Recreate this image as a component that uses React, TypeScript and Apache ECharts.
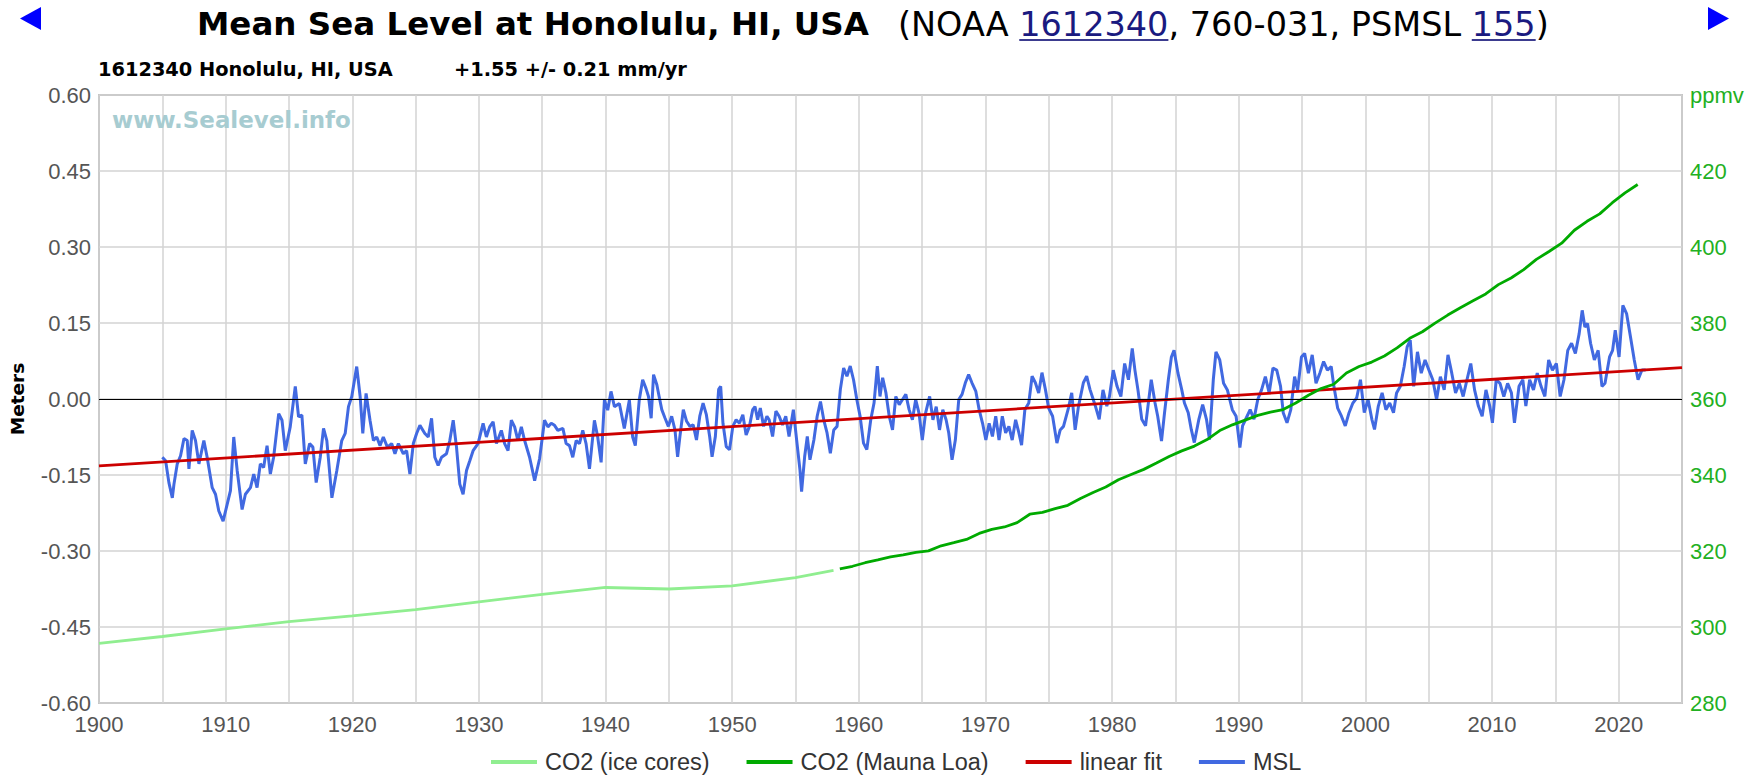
import React, { useEffect, useRef } from 'react';
import * as echarts from 'echarts';

// ---------- data ----------
const iceYears = [1900, 1905, 1910, 1915, 1920, 1925, 1930, 1935, 1940, 1945, 1950, 1955, 1958];
const iceCO2 = [295.7, 297.5, 299.5, 301.4, 302.9, 304.6, 306.6, 308.6, 310.4, 310.0, 310.8, 313.0, 314.9];

const mlYears = [1958.5, 1959.5, 1960.5, 1961.5, 1962.5, 1963.5, 1964.5, 1965.5, 1966.5, 1967.5, 1968.5, 1969.5,
  1970.5, 1971.5, 1972.5, 1973.5, 1974.5, 1975.5, 1976.5, 1977.5, 1978.5, 1979.5, 1980.5, 1981.5, 1982.5, 1983.5,
  1984.5, 1985.5, 1986.5, 1987.5, 1988.5, 1989.5, 1990.5, 1991.5, 1992.5, 1993.5, 1994.5, 1995.5, 1996.5, 1997.5,
  1998.5, 1999.5, 2000.5, 2001.5, 2002.5, 2003.5, 2004.5, 2005.5, 2006.5, 2007.5, 2008.5, 2009.5, 2010.5, 2011.5,
  2012.5, 2013.5, 2014.5, 2015.5, 2016.5, 2017.5, 2018.5, 2019.5, 2020.5, 2021.5];
const mlCO2 = [315.3, 315.98, 316.91, 317.64, 318.45, 318.99, 319.62, 320.04, 321.37, 322.18, 323.05, 324.62,
  325.68, 326.32, 327.46, 329.68, 330.19, 331.13, 332.03, 333.84, 335.41, 336.84, 338.76, 340.12, 341.48, 343.15,
  344.87, 346.35, 347.61, 349.31, 351.69, 353.2, 354.45, 355.7, 356.54, 357.21, 358.96, 360.97, 362.74, 363.88,
  366.84, 368.54, 369.71, 371.32, 373.45, 375.98, 377.7, 379.98, 382.09, 384.02, 385.83, 387.64, 390.1, 391.85,
  394.06, 396.74, 398.81, 401.01, 404.41, 406.76, 408.72, 411.66, 414.24, 416.45];

const fitYears = [1900, 2025];
const fitMeters = [-0.132, 0.062];

const msl1905: [number, number][] = [
  [1905.0,-0.115],[1905.26,-0.122],[1905.52,-0.165],[1905.79,-0.195],[1905.92,-0.168],[1906.18,-0.128],[1906.44,-0.112],
  [1906.71,-0.078],[1906.97,-0.082],[1907.1,-0.138],[1907.36,-0.062],[1907.62,-0.082],[1907.89,-0.128],[1908.28,-0.082],
  [1908.54,-0.115],[1908.94,-0.175],[1909.2,-0.188],[1909.46,-0.221],[1909.8,-0.241],[1910.12,-0.208],[1910.38,-0.181],
  [1910.64,-0.075],[1910.91,-0.141],[1911.3,-0.218],[1911.56,-0.188],[1911.96,-0.175],[1912.22,-0.148],[1912.48,-0.175],
  [1912.74,-0.128],[1913.0,-0.135],[1913.27,-0.092],[1913.53,-0.148],[1913.79,-0.115],[1914.19,-0.029],[1914.45,-0.042],
  [1914.71,-0.102],[1915.1,-0.055],[1915.5,0.025],[1915.76,-0.035],[1916.02,-0.032],[1916.29,-0.128],[1916.63,-0.088],
  [1916.89,-0.095],[1917.15,-0.165],[1917.47,-0.115],[1917.73,-0.058],[1917.99,-0.082],[1918.39,-0.195],[1918.78,-0.141],
  [1919.17,-0.082],[1919.44,-0.068],[1919.7,-0.015],[1919.96,0.005],[1920.35,0.064],[1920.62,0.005],[1920.83,-0.068],
  [1921.09,0.011],[1921.4,-0.042],[1921.67,-0.082],[1921.93,-0.075],[1922.19,-0.092],[1922.45,-0.075],[1922.77,-0.095],
  [1923.11,-0.088],[1923.37,-0.108],[1923.64,-0.088],[1924.03,-0.108],[1924.29,-0.102],[1924.55,-0.148],[1924.82,-0.088],
  [1925.08,-0.068],[1925.34,-0.052],[1925.73,-0.068],[1926.0,-0.075],[1926.26,-0.038],[1926.52,-0.115],[1926.78,-0.131],
  [1927.05,-0.115],[1927.44,-0.108],[1927.7,-0.082],[1927.97,-0.042],[1928.23,-0.095],[1928.49,-0.168],[1928.75,-0.188],
  [1929.02,-0.141],[1929.28,-0.122],[1929.54,-0.102],[1929.93,-0.088],[1930.33,-0.048],[1930.59,-0.075],[1930.85,-0.055],
  [1931.12,-0.045],[1931.38,-0.088],[1931.77,-0.062],[1932.03,-0.088],[1932.3,-0.102],[1932.56,-0.042],[1932.82,-0.055],
  [1933.08,-0.082],[1933.35,-0.055],[1933.61,-0.082],[1934.0,-0.115],[1934.4,-0.161],[1934.79,-0.118],[1935.18,-0.042],
  [1935.45,-0.055],[1935.71,-0.048],[1935.97,-0.052],[1936.23,-0.062],[1936.63,-0.058],[1936.89,-0.088],[1937.15,-0.092],
  [1937.41,-0.115],[1937.68,-0.082],[1937.94,-0.088],[1938.2,-0.062],[1938.46,-0.088],[1938.73,-0.138],[1939.12,-0.042],
  [1939.38,-0.075],[1939.65,-0.125],[1939.91,-0.002],[1940.17,-0.022],[1940.43,0.015],[1940.7,-0.015],[1941.09,-0.009],
  [1941.48,-0.058],[1941.88,-0.002],[1942.14,-0.075],[1942.35,-0.092],[1942.66,-0.002],[1942.93,0.038],[1943.19,0.021],
];
const msl1943: [number, number][] = [
  [1943.39,0.005],[1943.6,-0.038],[1943.79,0.048],[1944.05,0.028],[1944.23,0.005],[1944.44,-0.021],[1944.7,-0.038],
  [1944.96,-0.054],[1945.22,-0.034],[1945.48,-0.061],[1945.69,-0.114],[1945.87,-0.074],[1946.14,-0.021],[1946.4,-0.044],
  [1946.66,-0.054],[1946.92,-0.051],[1947.18,-0.081],[1947.44,-0.034],[1947.7,-0.008],[1947.96,-0.031],[1948.22,-0.074],
  [1948.41,-0.114],[1948.67,-0.074],[1948.93,0.019],[1949.09,0.025],[1949.27,-0.048],[1949.53,-0.094],[1949.79,-0.1],
  [1950.05,-0.054],[1950.31,-0.041],[1950.57,-0.048],[1950.84,-0.031],[1951.1,-0.071],[1951.36,-0.054],[1951.62,-0.021],
  [1951.8,-0.015],[1952.01,-0.041],[1952.22,-0.018],[1952.48,-0.054],[1952.74,-0.034],[1952.92,-0.041],[1953.19,-0.074],
  [1953.45,-0.024],[1953.71,-0.034],[1953.97,-0.051],[1954.23,-0.034],[1954.49,-0.074],[1954.83,-0.021],[1955.09,-0.081],
  [1955.35,-0.14],[1955.48,-0.183],[1955.72,-0.114],[1955.93,-0.074],[1956.14,-0.12],[1956.45,-0.081],[1956.71,-0.034],
  [1956.97,-0.005],[1957.23,-0.041],[1957.49,-0.067],[1957.75,-0.107],[1958.02,-0.061],[1958.28,-0.054],[1958.54,0.019],
  [1958.8,0.061],[1959.06,0.045],[1959.32,0.065],[1959.58,0.038],[1959.84,-0.001],[1960.1,-0.034],[1960.37,-0.087],
  [1960.63,-0.1],[1960.94,-0.041],[1961.2,-0.008],[1961.46,0.065],[1961.67,0.005],[1961.88,0.042],[1962.14,0.012],
  [1962.4,-0.034],[1962.66,-0.061],[1962.92,0.005],[1963.19,-0.011],[1963.45,-0.001],[1963.71,0.009],[1963.97,-0.021],
  [1964.23,-0.041],[1964.49,-0.001],[1964.75,-0.028],[1965.01,-0.081],[1965.27,-0.028],[1965.59,0.005],[1965.85,-0.041],
  [1966.11,-0.015],[1966.37,-0.061],[1966.63,-0.021],[1966.89,-0.041],[1967.1,-0.067],[1967.36,-0.12],[1967.62,-0.081],
  [1967.89,-0.001],[1968.15,0.009],[1968.41,0.032],[1968.67,0.048],[1968.93,0.032],[1969.24,0.015],[1969.5,-0.021],
  [1969.77,-0.048],[1970.03,-0.081],[1970.29,-0.048],[1970.55,-0.074],[1970.81,-0.034],[1971.07,-0.081],[1971.33,-0.034],
  [1971.59,-0.067],[1971.85,-0.054],[1972.11,-0.081],[1972.38,-0.041],[1972.64,-0.067],[1972.85,-0.091],[1973.11,-0.021],
  [1973.42,-0.008],[1973.68,0.045],[1973.94,0.032],[1974.2,0.012],[1974.46,0.052],[1974.73,0.019],[1974.99,-0.018],
  [1975.3,-0.034],[1975.64,-0.087],[1975.9,-0.061],[1976.16,-0.054],[1976.55,-0.018],[1976.81,0.012],[1977.08,-0.061],
  [1977.34,-0.015],[1977.73,0.032],[1977.99,0.045],[1978.25,0.019],[1978.51,-0.001],
];
const msl1978: [number, number][] = [
  [1978.68,-0.014],[1978.98,-0.04],[1979.28,0.018],[1979.58,-0.014],[1979.79,0.005],[1980.09,0.057],[1980.39,0.025],
  [1980.69,0.005],[1980.99,0.07],[1981.29,0.038],[1981.59,0.1],[1981.8,0.057],[1982.04,0.018],[1982.34,-0.04],
  [1982.64,-0.053],[1983.09,0.038],[1983.39,-0.008],[1983.6,-0.034],[1983.9,-0.083],[1984.14,-0.027],[1984.44,0.038],
  [1984.68,0.083],[1984.89,0.096],[1985.2,0.051],[1985.5,0.018],[1985.71,-0.008],[1986.01,-0.027],[1986.25,-0.06],
  [1986.49,-0.086],[1986.85,-0.04],[1987.15,-0.011],[1987.45,-0.04],[1987.69,-0.08],[1987.99,0.038],[1988.2,0.093],
  [1988.5,0.077],[1988.8,0.031],[1989.1,0.018],[1989.49,-0.021],[1989.79,-0.034],[1990.09,-0.096],[1990.3,-0.053],
  [1990.6,-0.037],[1990.9,-0.021],[1991.2,-0.04],[1991.5,-0.001],[1991.8,0.018],[1992.1,0.044],[1992.4,0.012],
  [1992.7,0.061],[1993.0,0.057],[1993.3,0.025],[1993.51,-0.027],[1993.81,-0.047],[1994.11,-0.021],[1994.41,0.044],
  [1994.65,0.018],[1994.95,0.083],[1995.2,0.09],[1995.5,0.051],[1995.8,0.087],[1996.1,0.031],[1996.4,0.051],
  [1996.7,0.074],[1997.0,0.057],[1997.3,0.064],[1997.51,0.025],[1997.81,-0.018],[1998.11,-0.034],[1998.41,-0.053],
  [1998.71,-0.027],[1999.01,-0.008],[1999.31,0.002],[1999.61,0.038],[1999.91,-0.027],[2000.21,-0.001],[2000.51,-0.04],
  [2000.72,-0.06],[2001.02,-0.014],[2001.32,0.012],[2001.62,-0.021],[2001.92,-0.008],[2002.22,-0.027],[2002.46,0.012],
  [2002.76,0.025],[2003.06,0.064],[2003.3,0.103],[2003.54,0.116],[2003.81,0.025],[2004.11,0.093],[2004.41,0.051],
  [2004.71,0.077],[2005.02,0.057],[2005.32,0.038],[2005.62,-0.001],[2005.92,0.044],[2006.22,0.018],[2006.52,0.087],
  [2006.82,0.051],[2007.12,0.012],[2007.42,0.031],[2007.72,0.005],[2008.02,0.038],[2008.32,0.07],[2008.62,0.018],
  [2008.92,-0.014],[2009.22,-0.034],[2009.52,0.018],[2009.82,-0.014],[2010.03,-0.047],[2010.33,0.038],[2010.63,0.031],
  [2010.93,0.005],[2011.23,0.031],[2011.53,0.012],[2011.77,-0.047],[2012.13,0.025],[2012.43,0.038],[2012.67,-0.014],
  [2012.97,0.038],[2013.27,0.018],[2013.57,0.051],[2013.87,0.025],[2014.17,0.005],[2014.47,0.077],[2014.77,0.057],
  [2015.08,0.07],[2015.38,0.005],[2015.68,0.038],[2015.98,0.096],[2016.28,0.11],[2016.58,0.09],[2016.88,0.129],
  [2017.12,0.175],[2017.33,0.142],[2017.54,0.149],[2017.78,0.11],[2018.08,0.077],[2018.38,0.096],[2018.68,0.025],
  [2018.92,0.031],[2019.28,0.083],[2019.52,0.096],[2019.73,0.136],[2020.03,0.083],[2020.33,0.185],[2020.63,0.168],
  [2020.93,0.123],[2021.23,0.077],[2021.53,0.038],[2021.83,0.057],[2022.13,0.057],
];

const seriesNames = ['CO2 (ice cores)', 'CO2 (Mauna Loa)', 'linear fit', 'MSL'];
const seriesColors = ['#90ee90', '#00aa00', '#cc0000', '#4169e1'];
const titleMain = 'Mean Sea Level at Honolulu, HI, USA';
const titleParts: { t: string; link: boolean }[] = [
  { t: '(NOAA ', link: false },
  { t: '1612340', link: true },
  { t: ', 760-031, PSMSL ', link: false },
  { t: '155', link: true },
  { t: ')', link: false },
];
const subtitleStation = '1612340 Honolulu, HI, USA';
const subtitleTrend = '+1.55 +/- 0.21 mm/yr';
const watermark = 'www.Sealevel.info';
const leftAxisName = 'Meters';
const rightAxisTopLabel = 'ppmv';

function textWidth(text: string, font: string): number {
  const ctx = document.createElement('canvas').getContext('2d');
  if (!ctx) return text.length * 10;
  ctx.font = font;
  return ctx.measureText(text).width;
}

const zip = (a: number[], b: number[]) => a.map((v, i) => [v, b[i]]);

export default function App() {
  const ref = useRef<HTMLDivElement>(null);

  useEffect(() => {
    if (!ref.current) return;
    const chart = echarts.init(ref.current, undefined, { renderer: 'svg' });

    const DJ = '"DejaVu Sans"';
    const titleFs = (32 * 672) / textWidth(titleMain, `bold 32px ${DJ}`);
    const partsW32 = titleParts.reduce((s, p) => s + textWidth(p.t, `32px ${DJ}`), 0);
    const parenFs = (32 * 651) / partsW32;
    const wmFs = (22 * 239) / textWidth(watermark, `bold 22px ${DJ}`);
    const subFs = (18 * 295) / textWidth(subtitleStation, `bold 18px ${DJ}`);

    const graphics: any[] = [];
    graphics.push({
      type: 'polygon', shape: { points: [[20, 18.5], [41, 7], [41, 30]] }, style: { fill: '#0000ff' },
    });
    graphics.push({
      type: 'polygon', shape: { points: [[1729, 18.5], [1708, 7], [1708, 30]] }, style: { fill: '#0000ff' },
    });
    graphics.push({
      type: 'text', x: 197, y: 24,
      style: { text: titleMain, fill: '#000', fontSize: titleFs, fontWeight: 'bold', fontFamily: 'DejaVu Sans', align: 'left', verticalAlign: 'middle' },
    });
    let px = 898;
    titleParts.forEach((p) => {
      const w = textWidth(p.t, `${parenFs}px ${DJ}`);
      graphics.push({
        type: 'text', x: px, y: 24,
        style: { text: p.t, fill: p.link ? '#1a1a80' : '#000', fontSize: parenFs, fontFamily: 'DejaVu Sans', align: 'left', verticalAlign: 'middle' },
      });
      if (p.link) {
        graphics.push({
          type: 'line', shape: { x1: px, y1: 40, x2: px + w, y2: 40 }, style: { stroke: '#3b3b8f', lineWidth: 2 },
        });
      }
      px += w;
    });
    graphics.push({
      type: 'text', x: 98, y: 69,
      style: { text: subtitleStation, fill: '#000', fontSize: subFs, fontWeight: 'bold', fontFamily: 'DejaVu Sans', align: 'left', verticalAlign: 'middle' },
    });
    graphics.push({
      type: 'text', x: 454, y: 69,
      style: { text: subtitleTrend, fill: '#000', fontSize: subFs, fontWeight: 'bold', fontFamily: 'DejaVu Sans', align: 'left', verticalAlign: 'middle' },
    });
    graphics.push({
      type: 'text', x: 112, y: 120, z: 1,
      style: { text: watermark, fill: '#a7ccd1', fontSize: wmFs, fontWeight: 'bold', fontFamily: 'DejaVu Sans', align: 'left', verticalAlign: 'middle' },
    });

    const msl = [...msl1905, ...msl1943, ...msl1978];

    const option: any = {
      animation: false,
      backgroundColor: '#fff',
      textStyle: { fontFamily: 'Liberation Sans' },
      graphic: graphics,
      grid: { left: 99, right: 78, top: 95, bottom: 72, show: true, borderColor: '#999', borderWidth: 1.5, backgroundColor: 'transparent' },
      legend: {
        left: 486, top: 745, icon: 'rect', itemWidth: 46, itemHeight: 4, itemGap: 37,
        textStyle: { fontSize: 23.5, color: '#333', fontFamily: 'Liberation Sans', padding: [0, 0, 0, 3] },
        data: seriesNames,
      },
      xAxis: {
        type: 'value', min: 1900, max: 2025, interval: 5,
        axisLine: { show: false }, axisTick: { show: false },
        axisLabel: {
          color: '#555', fontSize: 22, margin: 10,
          formatter: (v: number) => (Math.round(v) % 10 === 0 ? String(Math.round(v)) : ''),
        },
        splitLine: { show: true, lineStyle: { color: '#d3d3d3', width: 1.5 } },
      },
      yAxis: [
        {
          type: 'value', min: -0.6, max: 0.6, interval: 0.15, position: 'left',
          name: leftAxisName, nameLocation: 'middle', nameRotate: 90, nameGap: 72,
          nameTextStyle: { fontSize: 18.5, fontWeight: 'bold', color: '#000', fontFamily: 'DejaVu Sans' },
          axisLine: { show: false }, axisTick: { show: false },
          axisLabel: { color: '#555', fontSize: 22, margin: 8, formatter: (v: number) => v.toFixed(2) },
          splitLine: { show: true, lineStyle: { color: '#d3d3d3', width: 1.5 } },
        },
        {
          type: 'value', min: 280, max: 440, interval: 20, position: 'right',
          axisLine: { show: false }, axisTick: { show: false },
          axisLabel: {
            color: '#22b022', fontSize: 22, margin: 8,
            formatter: (v: number) => (v >= 440 ? rightAxisTopLabel : String(v)),
          },
          splitLine: { show: false },
        },
      ],
      series: [
        {
          name: seriesNames[3], type: 'line', xAxisIndex: 0, yAxisIndex: 0, data: msl,
          showSymbol: false, symbol: 'none', color: seriesColors[3],
          lineStyle: { color: seriesColors[3], width: 3 },
          markLine: {
            silent: true, symbol: ['none', 'none'], label: { show: false },
            lineStyle: { color: '#000', width: 1.2, type: 'solid' },
            data: [{ yAxis: 0 }],
          },
          z: 2,
        },
        {
          name: seriesNames[2], type: 'line', yAxisIndex: 0, data: zip(fitYears, fitMeters),
          showSymbol: false, symbol: 'none', color: seriesColors[2],
          lineStyle: { color: seriesColors[2], width: 2.8 }, z: 3,
        },
        {
          name: seriesNames[0], type: 'line', yAxisIndex: 1, data: zip(iceYears, iceCO2),
          showSymbol: false, symbol: 'none', color: seriesColors[0],
          lineStyle: { color: seriesColors[0], width: 2.8 }, z: 3,
        },
        {
          name: seriesNames[1], type: 'line', yAxisIndex: 1, data: zip(mlYears, mlCO2),
          showSymbol: false, symbol: 'none', color: seriesColors[1],
          lineStyle: { color: seriesColors[1], width: 2.8 }, z: 3,
        },
      ],
    };

    chart.setOption(option);
    return () => chart.dispose();
  }, []);

  return (
    <div
      ref={ref}
      style={{ position: 'fixed', left: 0, top: 0, width: 1760, height: 775, background: '#fff' }}
    />
  );
}
